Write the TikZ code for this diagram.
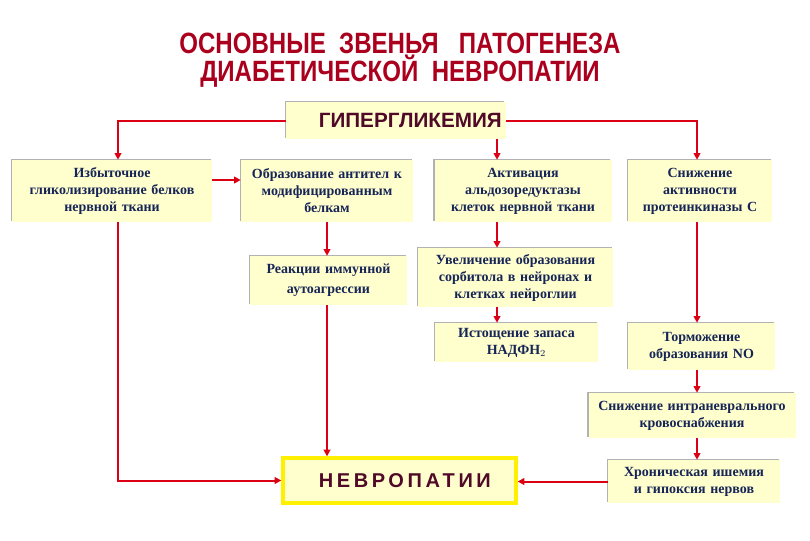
\documentclass[tikz,border=0pt]{standalone}
\usepackage{fontspec}
\setmainfont{Liberation Serif}
\setsansfont{Liberation Sans}
\newfontfamily\titlefont[FakeStretch=0.82]{Liberation Sans}
\newfontfamily\spacedfont[LetterSpace=18]{Liberation Sans}
\usepackage{tikz}
\usetikzlibrary{arrows.meta, positioning, calc, shadows}
\usepackage{xcolor}
\definecolor{titlered}{RGB}{170,0,30}
\definecolor{arrowred}{RGB}{220,0,20}
\definecolor{boxfill}{RGB}{255,255,206}
\definecolor{boxtext}{RGB}{22,36,86}
\definecolor{darkmaroon}{RGB}{80,10,40}
\definecolor{neuroyellow}{RGB}{255,240,0}

\begin{document}
\begin{tikzpicture}[x=0.75pt, y=-0.75pt,
  box/.style={fill=boxfill, inner xsep=3pt, inner ysep=2pt, align=center, text=boxtext,
    font=\bfseries\fontsize{10.5}{12.75}\selectfont,
    general shadow={fill=black!30, shadow xshift=-1pt, shadow yshift=1pt}},
  arr/.style={draw=arrowred, line width=1.5pt, -{Triangle[length=5pt,width=5pt]}},
  ln/.style={draw=arrowred, line width=1.5pt}]
  \fill[white] (0,0) rectangle (810,540);

  % heading
  \node[align=center, text=titlered, font=\titlefont\bfseries\fontsize{22}{20}\selectfont] (title) at (400,60)
    {ОСНОВНЫЕ\ \ ЗВЕНЬЯ\ \ \ ПАТОГЕНЕЗА\\ДИАБЕТИЧЕСКОЙ\ \ НЕВРОПАТИИ};

  \node[box, text width=158.5pt, inner xsep=3pt, align=right, minimum height=27.75pt, text=darkmaroon,
    font=\sffamily\bfseries\fontsize{15.5}{17}\selectfont] (hyp) at (396,120.5) {ГИПЕРГЛИКЕМИЯ};

  % first row
  \node[box, text width=144pt, minimum height=46.5pt] (gly) at (112,191)
    {Избыточное\\гликолизирование белков\\нервной ткани};
  \node[box, text width=123pt, minimum height=46.5pt] (anti) at (327,191)
    {Образование антител к\\модифицированным\\белкам};
  \node[box, text width=126.75pt, minimum height=46.5pt] (ald) at (523,191)
    {Активация\\альдозоредуктазы\\клеток нервной ткани};
  \node[box, text width=102pt, minimum height=46.5pt] (pkc) at (700,191)
    {Снижение\\активности\\протеинкиназы С};

  % lower boxes
  \node[box, text width=111.75pt, minimum height=36.75pt, font=\bfseries\fontsize{10.5}{15}\selectfont] (reac) at (328.5,280.5)
    {Реакции иммунной\\аутоагрессии};
  \node[box, text width=140.25pt, minimum height=44.25pt] (sorb) at (515.5,277.5)
    {Увеличение образования\\сорбитола в нейронах и\\клетках нейроглии};
  \node[box, text width=116.25pt, minimum height=29.25pt] (nadph) at (516.5,342.5)
    {Истощение запаса\\НАДФН$_2$};
  \node[box, text width=104.25pt, minimum height=35.25pt] (torm) at (701.5,346.5)
    {Торможение\\образования NO};
  \node[box, text width=149.25pt, minimum height=33.75pt] (krov) at (692,415.5)
    {Снижение интраневрального\\кровоснабжения};
  \node[box, text width=123pt, minimum height=32.25pt] (chron) at (694,481.5)
    {Хроническая ишемия\\и гипоксия нервов};

  \node[box, draw=neuroyellow, line width=2.5pt, minimum width=174.75pt, minimum height=33.75pt, text=darkmaroon,
    font=\spacedfont\bfseries\fontsize{15}{17}\selectfont] (neur) at (399.5,480.5) {\hspace{8pt}НЕВРОПАТИИ};

  \coordinate (lcol) at (118,0);
  \coordinate (mcol) at (497,0);
  \coordinate (rcol) at (697,0);

  % connectors
  \draw[arr] (hyp.west) -| (gly.north -| lcol);
  \draw[arr] (hyp.east) -| (pkc.north -| rcol);
  \draw[arr] (hyp.south -| mcol) -- (ald.north -| mcol);
  \draw[arr] ($(gly.east)+(0,-11)$) -- ($(anti.west)+(0,-11)$);
  \draw[arr] (anti.south) -- (reac.north -| anti.south);
  \draw[arr] (ald.south -| mcol) -- (sorb.north -| mcol);
  \draw[arr] (sorb.south -| mcol) -- (nadph.north -| mcol);
  \draw[arr] (pkc.south -| rcol) -- (torm.north -| rcol);
  \draw[arr] (torm.south -| rcol) -- (krov.north -| rcol);
  \draw[arr] (krov.south -| rcol) -- (chron.north -| rcol);
  \draw[arr] (chron.west) -- (chron.west -| neur.east);
  \draw[arr] (reac.south -| anti.south) -- (neur.north -| anti.south);
  \draw[arr] (gly.south -| lcol) |- (neur.west);
\end{tikzpicture}
\end{document}
